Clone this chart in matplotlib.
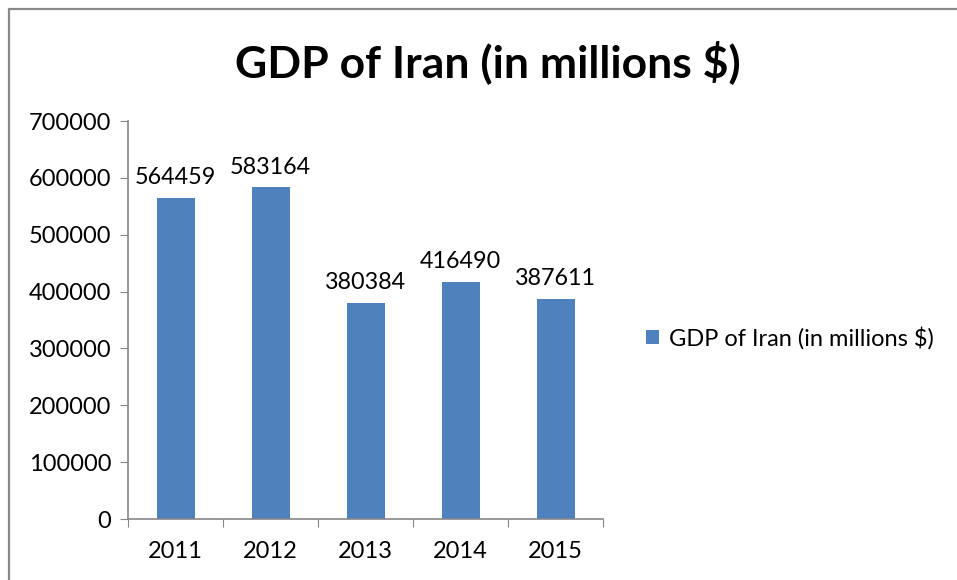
import matplotlib
matplotlib.use("Agg")
import matplotlib.pyplot as plt
from matplotlib.patches import Rectangle

years = ["2011", "2012", "2013", "2014", "2015"]
gdp = [564459, 583164, 380384, 416490, 387611]
yticks = [0, 100000, 200000, 300000, 400000, 500000, 600000, 700000]
series_name = "GDP of Iran (in millions $)"
title = "GDP of Iran (in millions $)"

plt.rcParams['font.family'] = ['Lato', 'DejaVu Sans']
W, H = 957, 580
fig = plt.figure(figsize=(W/100, H/100), dpi=100)
fig.patch.set_facecolor('white')

# outer chart border (only left/top visible)
fig.add_artist(Rectangle((9/W, -0.05), 1.2, 1 - 9/H + 0.05, transform=fig.transFigure,
                         fill=False, edgecolor='#8a8a8a', linewidth=1.6))

ax = fig.add_axes([128/W, 1 - 519/H, (603 - 128)/W, (519 - 121)/H])
x = list(range(len(years)))
bars = ax.bar(x, gdp, width=0.4, color='#4F81BD', label=series_name, zorder=2)
ax.set_xlim(-0.5, len(years) - 0.5)
ax.set_ylim(0, 700000)
ax.set_yticks(yticks)
ax.set_yticklabels([str(v) for v in yticks], fontsize=17)
ax.set_xticks([i - 0.5 for i in range(len(years) + 1)], minor=False)
ax.set_xticklabels([])
ax.set_xticks(x, minor=True)
ax.set_xticklabels(years, minor=True, fontsize=17)
ax.tick_params(axis='x', which='minor', length=0, pad=16)
ax.tick_params(axis='x', which='major', length=6, color='#868686', direction='out')
ax.tick_params(axis='y', length=6, color='#868686', direction='out', pad=6)
for s in ['top', 'right']:
    ax.spines[s].set_visible(False)
for s in ['left', 'bottom']:
    ax.spines[s].set_color('#868686')
    ax.spines[s].set_linewidth(1.2)

for b, v in zip(bars, gdp):
    ax.annotate(str(v), (b.get_x() + b.get_width()/2, v), xytext=(0, 7),
                textcoords='offset points', ha='center', va='bottom', fontsize=16.8)

fig.text(488/W, 1 - 62/H, title, ha='center', va='center', fontsize=32, fontweight='bold')

leg = fig.legend(handles=[bars], labels=[series_name], loc='center left',
                 bbox_to_anchor=(625/W, 1 - 338/H), frameon=False, fontsize=17,
                 handlelength=0.55, handleheight=0.55, handletextpad=0.4)

fig.savefig('out.png', dpi=100)
